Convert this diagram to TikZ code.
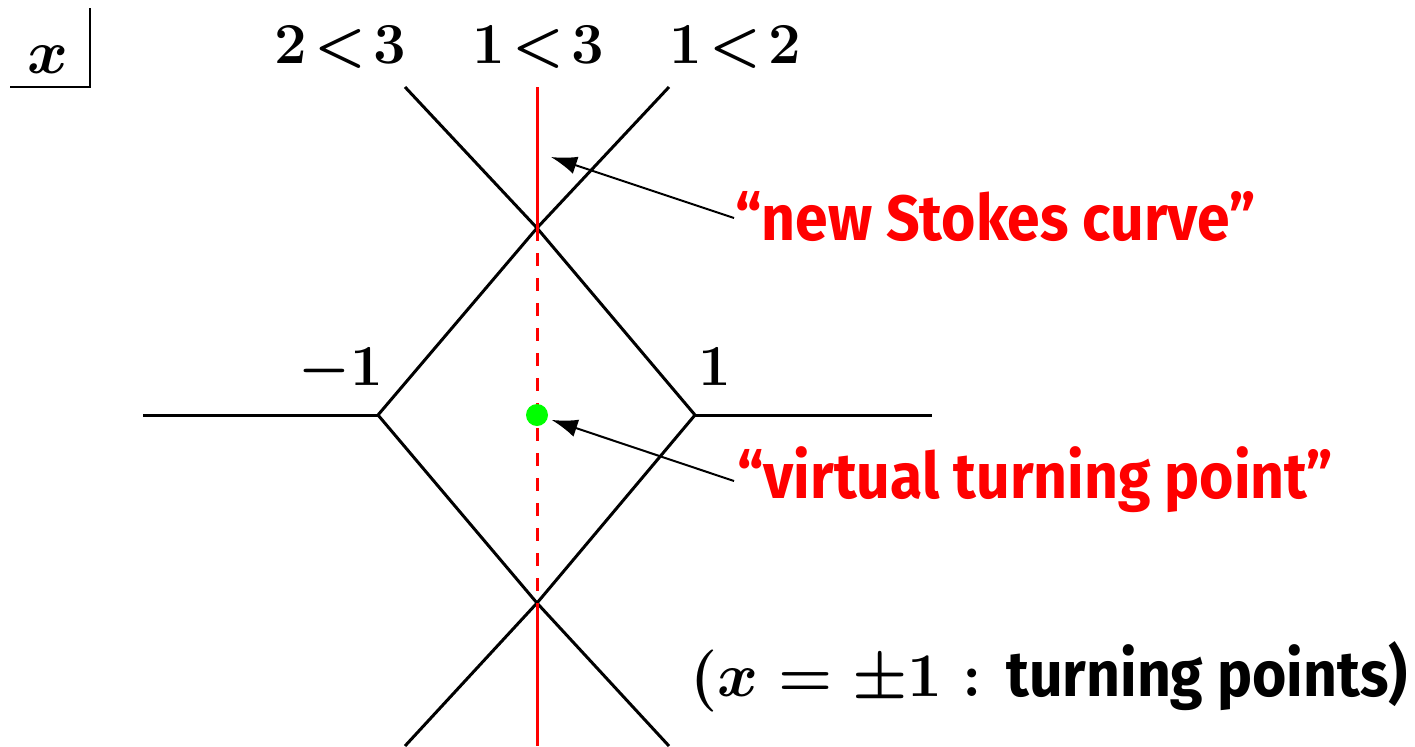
\RequirePackage{fix-cm}
\documentclass[tikz,border=0pt]{standalone}
\usepackage{fontspec}
\newfontfamily\labfont{Fira Sans}[FakeStretch=0.92]
\usetikzlibrary{arrows.meta}
\definecolor{vgreen}{RGB}{0,255,0}
\newcommand{\tightlt}{\mathrel{\mkern-3mu<\mkern-3mu}}
\begin{document}
\begin{tikzpicture}[x=0.5pt,y=-0.5pt,
  curve/.style={line width=1.5pt, black},
  stokesred/.style={line width=1.5pt, red},
  redlab/.style={font=\labfont\bfseries\fontsize{32}{36}\selectfont, text=red, anchor=base west, inner sep=0pt},
  mlab/.style={font=\fontsize{29}{32}\selectfont\boldmath, anchor=base, inner sep=0pt},
  bigmath/.style={font=\fontsize{31}{34}\selectfont\boldmath, inner sep=0pt},
  ptr/.style={line width=1pt, -{Latex[length=13pt,width=9pt]}},
  boxline/.style={line width=1pt}]
\useasboundingbox (0,0) rectangle (1415,746);
% key points
\coordinate (tpL) at (378,415);
\coordinate (tpR) at (695,415);
\coordinate (cU) at (537,228);
\coordinate (cD) at (537,603);
\coordinate (endUL) at (405,87);
\coordinate (endUR) at (669,87);
\coordinate (endDL) at (405,746);
\coordinate (endDR) at (669,746);
\coordinate (endL) at (143,415);
\coordinate (endR) at (932,415);
\coordinate (redtop) at (537,87);
\coordinate (redbot) at (537,746);
% Stokes curves
\draw[curve] (endL) -- (tpL);
\draw[curve] (tpR) -- (endR);
\draw[curve] (tpL) -- (cU) -- (endUR);
\draw[curve] (tpR) -- (cU) -- (endUL);
\draw[curve] (tpL) -- (cD) -- (endDR);
\draw[curve] (tpR) -- (cD) -- (endDL);
% new Stokes curve
\draw[stokesred] (redtop) -- (cU);
\draw[stokesred, dash pattern=on 6.5pt off 6pt] (cU) -- (cD);
\draw[stokesred] (cD) -- (redbot);
% virtual turning point
\node[circle, fill=vgreen, minimum size=11pt, inner sep=0pt] (vtp) at (537,415) {};
% x box
\coordinate (bxA) at (10,87);
\coordinate (bxB) at (90,87);
\coordinate (bxC) at (90,8);
\draw[boxline] (bxA) -- (bxB) -- (bxC);
\node[bigmath, anchor=base] (xl) at (48,73) {$x$};
% order labels
\node[mlab] (l23) at (340,63) {$2\tightlt3$};
\node[mlab] (l13) at (538,63) {$1\tightlt3$};
\node[mlab] (l12) at (735,63) {$1\tightlt2$};
\node[mlab] (lm1) at (341,385) {$-1$};
\node[mlab] (lp1) at (715,385) {$1$};
% red labels
\node[redlab] (nsc) at (735,240) {“new Stokes curve”};
\node[redlab] (vtl) at (737,498) {“virtual turning point”};
\coordinate (a1s) at (734,218);
\coordinate (a1e) at (551,157);
\coordinate (a2s) at (734,481);
\draw[ptr] (a1s) -- (a1e);
\draw[ptr, shorten >=2pt] (a2s) -- (vtp);
% note
\node[bigmath, anchor=base west] (notem) at (690,696) {$(x=\pm1:$};
\node[anchor=base west, inner sep=0pt, font=\labfont\bfseries\fontsize{32}{36}\selectfont] (notet) at (1006,696)
  {turning points)};
\end{tikzpicture}
\end{document}
